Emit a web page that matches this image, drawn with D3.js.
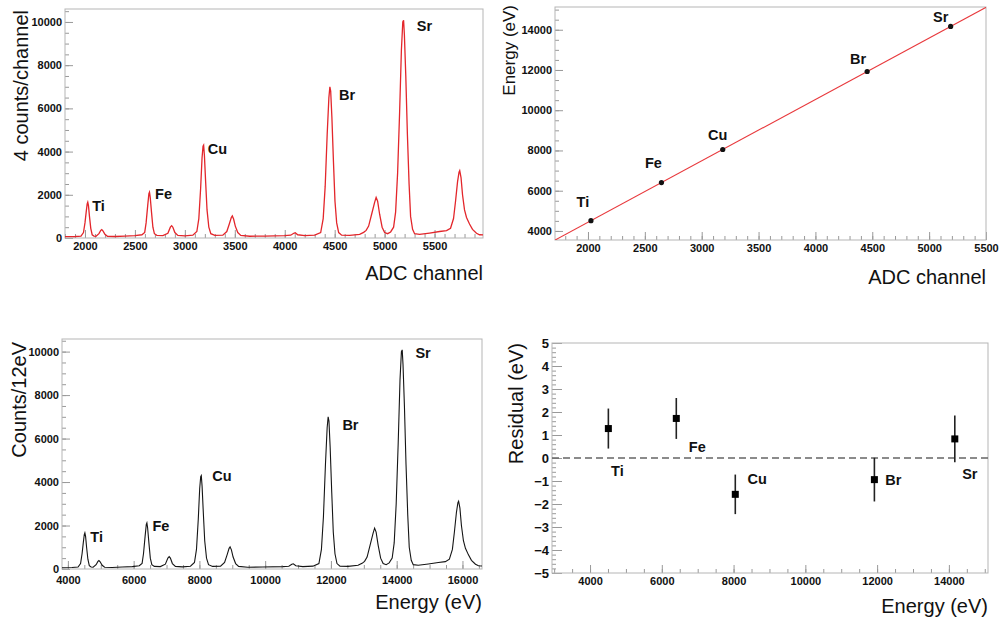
<!DOCTYPE html>
<html>
<head>
<meta charset="utf-8">
<script src="https://cdn.jsdelivr.net/npm/d3@7"></script>
<style>
  body { margin: 0; background: #fff; }
  svg { display: block; }
  .tick text { font-family: "Liberation Sans", Arial, sans-serif; font-weight: bold; font-size: 11px; fill: #111; }
  .tick line { stroke: #999; }
  .big-ticks .tick text { font-size: 13px; }
  .title { font-family: "Liberation Sans", Arial, sans-serif; fill: #111; }
  .tag { font-family: "Liberation Sans", Arial, sans-serif; font-weight: bold; font-size: 14.5px; fill: #111; }
</style>
</head>
<body>
<svg id="chart" width="999" height="619"></svg>
<script>
// Lines used for the calibration
const elements = ['Ti', 'Fe', 'Cu', 'Br', 'Sr'];
const peakChannels = [2026, 2646, 3185, 4455, 5189];
const lineEnergies = [4510.8, 6403.8, 8047.8, 11924.2, 14165.0];
const residuals = [1.28, 1.72, -1.58, -0.94, 0.83];
const residualErrors = [0.87, 0.89, 0.86, 0.95, 1.02];

// Linear fit E = slope * channel + offset
const calibSlope = 3.0522;
const calibOffset = -1673;

// Spectrum (channel, counts per 4 channels)
const spectrumChannels = [
  1800, 1900, 1960, 1985, 2000, 2012, 2022, 2028, 2035, 2045, 2058, 2072, 2090, 2110,
  2140, 2158, 2168, 2180, 2200, 2225, 2300, 2400, 2500, 2570, 2598, 2612, 2628, 2640,
  2646, 2653, 2666, 2680, 2695, 2720, 2780, 2830, 2855, 2868, 2880, 2900, 2930, 3000,
  3080, 3120, 3140, 3158, 3172, 3182, 3188, 3196, 3208, 3222, 3240, 3260, 3300, 3380,
  3420, 3445, 3465, 3475, 3488, 3505, 3530, 3560, 3650, 3800, 4000, 4060, 4090, 4105,
  4130, 4200, 4300, 4360, 4385, 4405, 4425, 4442, 4452, 4460, 4472, 4488, 4503, 4520,
  4540, 4570, 4650, 4750, 4790, 4815, 4840, 4870, 4900, 4915, 4930, 4950, 4975, 5000,
  5030, 5060, 5090, 5110, 5130, 5150, 5168, 5182, 5190, 5198, 5212, 5228, 5245, 5260,
  5280, 5300, 5350, 5450, 5550, 5620, 5660, 5690, 5710, 5730, 5745, 5752, 5765, 5780,
  5800, 5820, 5850, 5880, 5920, 5950, 5985
];
const spectrumCounts = [
  60, 70, 90, 250, 700, 1200, 1580, 1660, 1500, 1000, 450, 150, 90, 80,
  200, 350, 390, 330, 170, 80, 70, 90, 110, 150, 260, 700, 1500, 2050,
  2120, 1900, 1200, 500, 200, 120, 110, 220, 500, 570, 500, 250, 120, 100,
  130, 300, 900, 2300, 3700, 4250, 4300, 3800, 2600, 1300, 500, 200, 120, 130,
  300, 650, 950, 1020, 880, 550, 250, 120, 80, 90, 110, 130, 220, 240,
  150, 110, 130, 250, 900, 2400, 4800, 6500, 7000, 6800, 5600, 3500, 1700, 700,
  250, 130, 120, 170, 260, 350, 550, 1100, 1650, 1880, 1700, 1100, 500, 250,
  200, 280, 500, 1200, 3000, 5800, 8700, 10000, 10080, 9400, 7500, 4800, 2500, 1000,
  400, 200, 170, 230, 300, 340, 450, 900, 1700, 2600, 3050, 3120, 2800, 2000,
  1300, 950, 650, 400, 220, 150, 140
];

// Tick labels
const adcTicks = [2000, 2500, 3000, 3500, 4000, 4500, 5000, 5500];
const countTicks = [0, 2000, 4000, 6000, 8000, 10000];
const calEnergyTicks = [4000, 6000, 8000, 10000, 12000, 14000];
const specEnergyTicks = [4000, 6000, 8000, 10000, 12000, 14000, 16000];
const residualTicks = [-5, -4, -3, -2, -1, 0, 1, 2, 3, 4, 5];

const toEnergy = ch => calibSlope * ch + calibOffset;

// Label offsets (px) from each peak / point
const TAG_OFFSETS = {
  spec: [[11, 4], [14, 2], [14, 4], [17, 8], [21, 6]],
  cal: [[-8, -19], [-8, -20], [-5, -15], [-9, -13], [-10, -9]],
  specE: [[12, 4], [14, 3], [21, 0], [22, 8], [21, 3]],
  resid: [[9, 42], [21, 29], [22, -15], [19, 0], [15, 35]]
};

const svg = d3.select('#chart');

function panel(opts) {
  const g = svg.append('g');
  const x = d3.scaleLinear().domain(opts.xDomain).range([opts.left, opts.right]);
  const y = d3.scaleLinear().domain(opts.yDomain).range([opts.bottom, opts.top]);
  const fmt = d3.format('d');

  // minor ticks
  g.append('g')
    .attr('transform', `translate(0,${opts.bottom})`)
    .call(d3.axisBottom(x).tickValues(opts.xMinor).tickSize(-4).tickFormat(''))
    .call(a => a.select('.domain').remove());
  g.append('g')
    .attr('transform', `translate(${opts.left},0)`)
    .call(d3.axisLeft(y).tickValues(opts.yMinor).tickSize(-4).tickFormat(''))
    .call(a => a.select('.domain').remove());

  // major ticks
  g.append('g')
    .attr('transform', `translate(0,${opts.bottom})`)
    .call(d3.axisBottom(x).tickValues(opts.xTicks).tickSize(-8).tickPadding(opts.xPad || 4).tickFormat(fmt))
    .call(a => a.select('.domain').remove());
  g.append('g')
    .attr('class', opts.bigY ? 'big-ticks' : null)
    .attr('transform', `translate(${opts.left},0)`)
    .call(d3.axisLeft(y).tickValues(opts.yTicks).tickSize(-opts.yMajor).tickPadding(3).tickFormat(fmt))
    .call(a => a.select('.domain').remove());

  g.append('rect')
    .attr('x', opts.left).attr('y', opts.top)
    .attr('width', opts.right - opts.left).attr('height', opts.bottom - opts.top)
    .attr('fill', 'none').attr('stroke', '#b5b5b5').attr('stroke-width', 1);

  const clipId = 'clip' + opts.id;
  svg.append('clipPath').attr('id', clipId).append('rect')
    .attr('x', opts.left).attr('y', opts.top)
    .attr('width', opts.right - opts.left).attr('height', opts.bottom - opts.top);

  g.append('text').attr('class', 'title')
    .attr('x', opts.right).attr('y', opts.xTitleY)
    .attr('text-anchor', 'end').style('font-size', '20px')
    .text(opts.xTitle);
  g.append('text').attr('class', 'title')
    .attr('transform', `translate(${opts.yTitleX},${opts.top + opts.yTitleShift}) rotate(-90)`)
    .attr('text-anchor', 'end').style('font-size', opts.yTitleSize + 'px')
    .text(opts.yTitle);

  const plot = g.append('g').attr('clip-path', `url(#${clipId})`);
  return { g, plot, x, y };
}

function addTags(p, xs, ys, offsets) {
  p.g.selectAll(null)
    .data(elements)
    .enter().append('text')
    .attr('class', 'tag')
    .attr('text-anchor', 'middle')
    .attr('x', (d, i) => p.x(xs[i]) + offsets[i][0])
    .attr('y', (d, i) => p.y(ys[i]) + offsets[i][1] + 5)
    .text(d => d);
}

// peak heights for the label anchors
const peakCounts = peakChannels.map(ch => {
  let best = 0;
  spectrumChannels.forEach((c, i) => { if (Math.abs(c - ch) < 15) best = Math.max(best, spectrumCounts[i]); });
  return best;
});

// ---- top-left: raw spectrum
const p1 = panel({
  id: 1, left: 65, right: 483, top: 9, bottom: 238,
  xDomain: [1800, 5985], yDomain: [0, 10600],
  xTicks: adcTicks, xMinor: d3.range(1800, 5990, 100),
  yTicks: countTicks, yMinor: d3.range(0, 10600, 500), yMajor: 8,
  xTitle: 'ADC channel', xTitleY: 280,
  yTitle: '4 counts/channel', yTitleX: 28, yTitleShift: 1, yTitleSize: 20
});
p1.plot.append('path')
  .datum(spectrumChannels)
  .attr('fill', 'none').attr('stroke', '#e3262b').attr('stroke-width', 1.3)
  .attr('d', d3.line().x(d => p1.x(d)).y((d, i) => p1.y(spectrumCounts[i])));
addTags(p1, peakChannels, peakCounts, TAG_OFFSETS.spec);

// ---- top-right: calibration
const p2 = panel({
  id: 2, left: 555, right: 986, top: 7, bottom: 240,
  xDomain: [1710, 5500], yDomain: [3550, 15130],
  xTicks: adcTicks, xMinor: d3.range(1800, 5501, 100),
  yTicks: calEnergyTicks, yMinor: d3.range(4000, 15130, 500), yMajor: 8,
  xTitle: 'ADC channel', xTitleY: 284,
  yTitle: 'Energy (eV)', yTitleX: 515, yTitleShift: -2, yTitleSize: 17
});
p2.plot.append('path')
  .datum(p2.x.domain())
  .attr('fill', 'none').attr('stroke', '#e8383c').attr('stroke-width', 1.1)
  .attr('d', d3.line().x(d => p2.x(d)).y(d => p2.y(toEnergy(d))));
p2.plot.selectAll('circle')
  .data(peakChannels)
  .enter().append('circle')
  .attr('cx', d => p2.x(d))
  .attr('cy', (d, i) => p2.y(lineEnergies[i]))
  .attr('r', 2.6).attr('fill', '#111');
addTags(p2, peakChannels, lineEnergies, TAG_OFFSETS.cal);

// ---- bottom-left: calibrated spectrum
const p3 = panel({
  id: 3, left: 62, right: 482, top: 339, bottom: 569,
  xDomain: [toEnergy(1800), toEnergy(5985)], yDomain: [0, 10580],
  xTicks: specEnergyTicks, xMinor: d3.range(4000, 16600, 500), xPad: 7,
  yTicks: countTicks, yMinor: d3.range(0, 10580, 500), yMajor: 8,
  xTitle: 'Energy (eV)', xTitleY: 609,
  yTitle: 'Counts/12eV', yTitleX: 26, yTitleShift: 3, yTitleSize: 20
});
p3.plot.append('path')
  .datum(spectrumChannels)
  .attr('fill', 'none').attr('stroke', '#151515').attr('stroke-width', 1.1)
  .attr('d', d3.line().x(d => p3.x(toEnergy(d))).y((d, i) => p3.y(spectrumCounts[i])));
addTags(p3, lineEnergies, peakCounts, TAG_OFFSETS.specE);

// ---- bottom-right: residuals
const p4 = panel({
  id: 4, left: 552, right: 988, top: 343, bottom: 573,
  xDomain: [2940, 15090], yDomain: [-5, 5],
  xTicks: calEnergyTicks, xMinor: d3.range(3000, 15090, 500),
  yTicks: residualTicks, yMinor: d3.range(-5, 5.01, 0.2), yMajor: 10, bigY: true,
  xTitle: 'Energy (eV)', xTitleY: 613,
  yTitle: 'Residual (eV)', yTitleX: 523, yTitleShift: 0, yTitleSize: 20
});
p4.plot.append('line')
  .attr('x1', 552).attr('x2', 988)
  .attr('y1', p4.y(0)).attr('y2', p4.y(0))
  .attr('stroke', '#666').attr('stroke-width', 1.5).attr('stroke-dasharray', '7,4');
p4.plot.selectAll('.err')
  .data(lineEnergies)
  .enter().append('line')
  .attr('class', 'err')
  .attr('x1', d => p4.x(d)).attr('x2', d => p4.x(d))
  .attr('y1', (d, i) => p4.y(residuals[i] + residualErrors[i]))
  .attr('y2', (d, i) => p4.y(residuals[i] - residualErrors[i]))
  .attr('stroke', '#222').attr('stroke-width', 1.6);
p4.plot.selectAll('.pt')
  .data(lineEnergies)
  .enter().append('rect')
  .attr('class', 'pt')
  .attr('x', d => p4.x(d) - 3.5)
  .attr('y', (d, i) => p4.y(residuals[i]) - 3.5)
  .attr('width', 7).attr('height', 7).attr('fill', '#000');
addTags(p4, lineEnergies, residuals, TAG_OFFSETS.resid);
</script>
</body>
</html>
